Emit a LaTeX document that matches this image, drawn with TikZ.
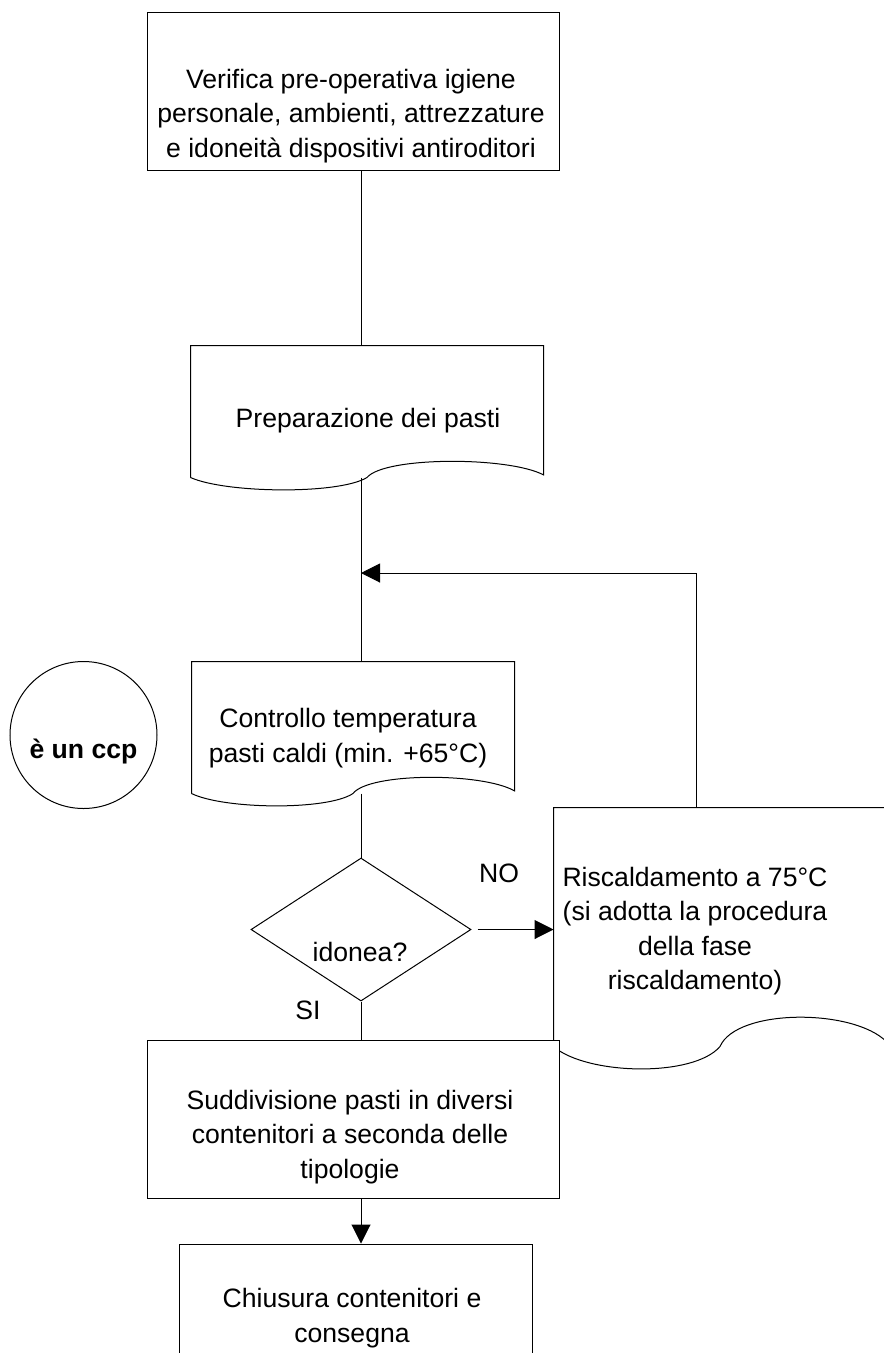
\documentclass[tikz,border=0pt]{standalone}
\usepackage{fontspec}
\setmainfont{Liberation Sans}
\usetikzlibrary{shapes.geometric, arrows.meta, calc}

\begin{document}
\begin{tikzpicture}[x=1pt,y=-1pt,
        every node/.style={font=\fontsize{26.6}{34.5}\selectfont,align=center,inner sep=0pt},
        arr/.style={-{Triangle[length=19pt,width=19pt]}}]
        \useasboundingbox (0,0) rectangle (884,1353);
        \clip (0,0) rectangle (884,1353);
        \begin{scope}[every node/.style={draw,line width=1pt,inner sep=0pt}]
          \node[minimum width=412pt,minimum height=158pt] (verif) at (353,91) {};
          \node[draw=none,minimum width=352pt,minimum height=131pt] (prep) at (367,411.5) {};
          \node[draw=none,minimum width=322pt,minimum height=131pt] (ctrl) at (353,727.5) {};
          \node[draw=none,minimum width=332pt,minimum height=238pt] (risc) at (720,927) {};
          \node[circle,minimum size=147pt] (ccp) at (83.5,735) {};
          \node[diamond,minimum width=220pt,minimum height=143pt] (ok) at (361,929.5) {};
        \end{scope}
        \coordinate (loop) at (696.5,573);
        \foreach \b in {prep,ctrl,risc}
          \draw[line width=1pt] let \p1=(\b.south west), \p2=(\b.north east),
              \n1={\x2-\x1}, \n2={\y2-\y1} in
            (\p1) -- (\x1,\y2) -- (\p2) -- (\x2,{\y1+0.02*\n2})
            .. controls ({\x2-0.1*\n1},{\y1+0.16*\n2}) and ({\x1+0.55*\n1},{\y1+0.16*\n2}) .. ({\x1+0.5*\n1},\y1)
            .. controls ({\x1+0.42*\n1},{\y1-0.13*\n2}) and ({\x1+0.1*\n1},{\y1-0.12*\n2}) .. (\p1);
        \begin{scope}[every node/.style={draw,fill=white,line width=1pt,inner sep=0pt}]
          \node[minimum width=412pt,minimum height=158pt] (sudd) at (353,1119) {};
          \node[minimum width=353pt,minimum height=158pt] (chius) at (355.5,1323) {};
        \end{scope}
        \begin{scope}[every edge/.style={draw,line width=1pt}]
          \path (verif.south -| ok.north) edge (prep.north -| ok.north);
          \path (prep.south -| ok.north) edge (ctrl.north -| ok.north);
          \path (ctrl.south -| ok.north) edge (ok.north);
          \path (ok.south) edge (sudd.north -| ok.south);
          \path (sudd.south -| ok.south) edge[arr] (chius.north -| ok.south);
          \path ([xshift=6pt]ok.east) edge[arr] (ok.east -| risc.west);
          \path (risc.north -| loop) edge (loop);
          \path (loop) edge[arr] (loop -| ok.north);
        \end{scope}
        \node (veriftxt) at (351,116) {Verifica pre-operativa igiene\\personale, ambienti, attrezzature\\e idoneità dispositivi antiroditori};
        \node (preptxt) at (368,421) {Preparazione dei pasti};
        \node (ctrltxt) at (348,738) {Controllo temperatura\\pasti caldi (min. +65°C)};
        \node[font=\fontsize{26.6}{34.5}\selectfont\bfseries] (ccptxt) at (83.5,751) {è un ccp};
        \node (oktxt) at (360,952) {idonea?};
        \node (no) at (499,873) {NO};
        \node (si) at (308,1010) {SI};
        \node (risctxt) at (695,931) {Riscaldamento a 75°C\\(si adotta la procedura\\della fase\\riscaldamento)};
        \node (suddtxt) at (350,1137) {Suddivisione pasti in diversi\\contenitori a seconda delle\\tipologie};
        \node (chiustxt) at (352,1318) {Chiusura contenitori e\\consegna};
      \end{tikzpicture}
\end{document}
